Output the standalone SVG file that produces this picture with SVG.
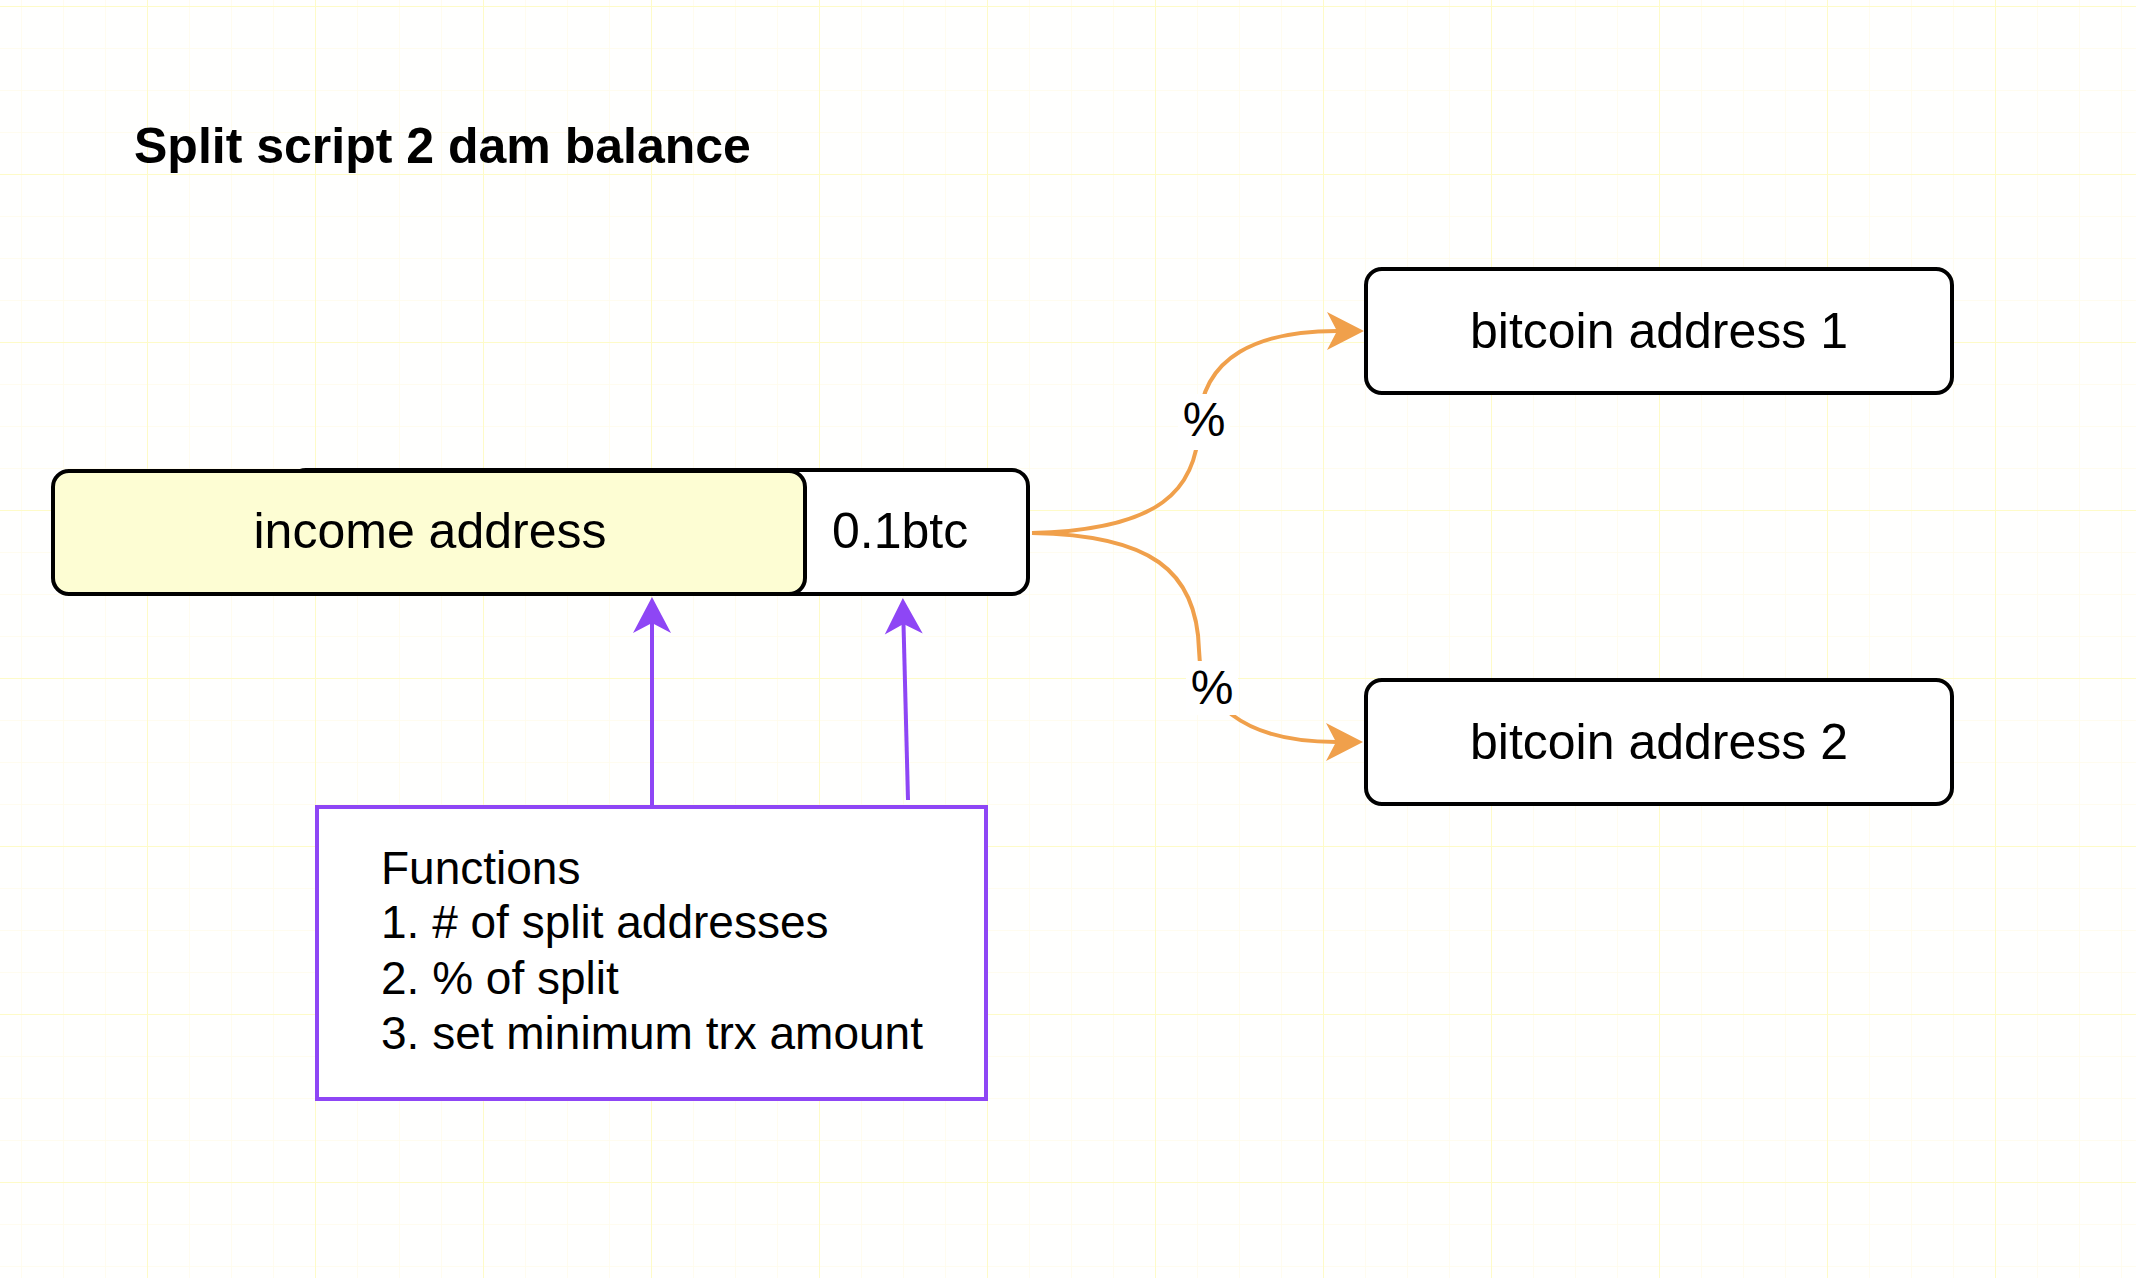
<svg xmlns="http://www.w3.org/2000/svg" width="2136" height="1278" viewBox="0 0 2136 1278">
  <style>
    .node { stroke: #000; stroke-width: 4; }
    .txt { font-family: "Liberation Sans", Arial, Helvetica, sans-serif; fill: #000; }
    .nodetxt { font-size: 50px; }
    .fn { font-size: 46px; }
    .pct { font-size: 48px; }
    .orange { fill: none; stroke: #f0a04b; stroke-width: 4; }
    .purple { fill: none; stroke: #8e46f5; stroke-width: 4; }
  </style>
  <defs>
    <pattern id="minor" x="-21" y="6" width="42" height="42" patternUnits="userSpaceOnUse">
      <path d="M0,0 H42 M0,0 V42" stroke="#fffcea" stroke-width="1.5" fill="none"/>
    </pattern>
    <pattern id="major" x="-21" y="6" width="168" height="168" patternUnits="userSpaceOnUse">
      <path d="M0,0 H168 M0,0 V168" stroke="#fefbc8" stroke-width="2" fill="none"/>
    </pattern>
    <marker id="arrOrange" viewBox="-40 -22 44 44" markerWidth="44" markerHeight="44" refX="-27" refY="0" orient="auto" markerUnits="userSpaceOnUse">
      <path d="M0,0 L-37,-19 L-27,0 L-37,19 Z" fill="#f0a04b"/>
    </marker>
    <marker id="arrPurple" viewBox="-40 -22 44 44" markerWidth="44" markerHeight="44" refX="-26" refY="0" orient="auto" markerUnits="userSpaceOnUse">
      <path d="M0,0 L-36,-19 L-26,0 L-36,19 Z" fill="#8e46f5"/>
    </marker>
  </defs>

  <rect x="0" y="0" width="2136" height="1278" fill="#fffffe"/>
  <rect x="0" y="0" width="2136" height="1278" fill="url(#minor)"/>
  <rect x="0" y="0" width="2136" height="1278" fill="url(#major)"/>

  <g id="title">
    <text class="txt" x="134" y="163" font-size="50" font-weight="bold">Split script 2 dam balance</text>
  </g>

  <g id="connectors">
    <path class="orange" d="M1032,533 C1160,530 1197,490 1199,425 C1201,355 1260,331 1337,331" marker-end="url(#arrOrange)"/>
    <path class="orange" d="M1032,533 C1150,535 1197,570 1199,650 C1200,700 1240,742 1336,742" marker-end="url(#arrOrange)"/>
    <g id="label-pct-1">
      <rect x="1178" y="394" width="52" height="56" fill="#ffffff"/>
      <text class="txt pct" x="1204" y="436" text-anchor="middle">%</text>
    </g>
    <g id="label-pct-2">
      <rect x="1186" y="661" width="52" height="54" fill="#ffffff"/>
      <text class="txt pct" x="1212" y="704" text-anchor="middle">%</text>
    </g>
    <path class="purple" d="M652,805 L652,623" marker-end="url(#arrPurple)"/>
    <path class="purple" d="M908,800 L903.5,624" marker-end="url(#arrPurple)"/>
  </g>

  <g id="income">
    <rect class="node" x="290" y="470" width="738" height="124" rx="16" fill="#ffffff"/>
    <rect class="node" x="53" y="471" width="752" height="123" rx="16" fill="#fdfdd3"/>
    <text class="txt nodetxt" x="430" y="548" text-anchor="middle">income address</text>
    <text class="txt nodetxt" x="832" y="548">0.1btc</text>
  </g>

  <g id="btc1">
    <rect class="node" x="1366" y="269" width="586" height="124" rx="16" fill="#ffffff"/>
    <text class="txt nodetxt" x="1659" y="348" text-anchor="middle">bitcoin address 1</text>
  </g>

  <g id="btc2">
    <rect class="node" x="1366" y="680" width="586" height="124" rx="16" fill="#ffffff"/>
    <text class="txt nodetxt" x="1659" y="759" text-anchor="middle">bitcoin address 2</text>
  </g>

  <g id="functions">
    <rect x="317" y="807" width="669" height="292" fill="#ffffff" stroke="#8e46f5" stroke-width="4"/>
    <text class="txt fn" x="381" y="884">Functions</text>
    <text class="txt fn" x="381" y="938">1. # of split addresses</text>
    <text class="txt fn" x="381" y="994">2. % of split</text>
    <text class="txt fn" x="381" y="1049">3. set minimum trx amount</text>
  </g>
</svg>
